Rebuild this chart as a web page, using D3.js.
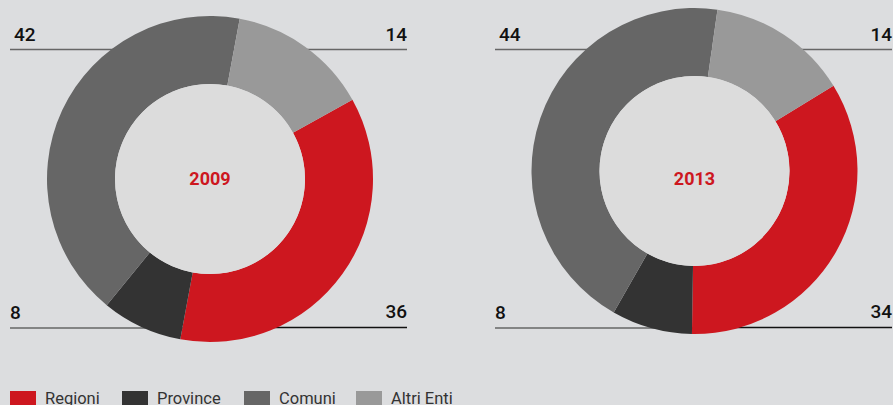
<!DOCTYPE html>
<html>
<head>
<meta charset="utf-8">
<script src="https://cdn.jsdelivr.net/npm/d3@7"></script>
<style>
  html, body { margin: 0; padding: 0; background: #dcdddf; }
  svg { display: block; font-family: Roboto, "Noto Sans", sans-serif; }
</style>
</head>
<body>
<svg id="chart" width="893" height="405"></svg>
<script>
// data
var categories = ["Regioni", "Province", "Comuni", "Altri Enti"];
var years = ["2009", "2013"];
var values2009 = [36, 8, 42, 14];
var values2013 = [34, 8, 44, 14];
var colors = ["#cd171f", "#333333", "#666666", "#999999"];

var svg = d3.select("#chart");

var charts = [
    { year: years[0], values: values2009, cx: 210, cy: 179, start: 60.9, x0: 10, x1: 407 },
    { year: years[1], values: values2013, cx: 694.5, cy: 171, start: 58.5, x0: 495, x1: 892 }
];

var outerR = 163, innerR = 95;
var arc = d3.arc().innerRadius(innerR).outerRadius(outerR);

charts.forEach(function(c) {
    var g = svg.append("g");

    // leader lines sit behind the donut
    g.append("line")
        .attr("x1", c.x0).attr("x2", c.x1)
        .attr("y1", 49.5).attr("y2", 49.5)
        .attr("stroke", "#666").attr("stroke-width", 1.6);
    g.append("line")
        .attr("x1", c.x0).attr("x2", (c.x0 + c.x1) / 2)
        .attr("y1", 328).attr("y2", 328)
        .attr("stroke", "#666").attr("stroke-width", 1.6);
    g.append("line")
        .attr("x1", (c.x0 + c.x1) / 2).attr("x2", c.x1)
        .attr("y1", 327.5).attr("y2", 327.5)
        .attr("stroke", "#111").attr("stroke-width", 1.4);

    var a0 = c.start * Math.PI / 180;
    var pie = d3.pie().sort(null).value(function(d) { return d; })
        .startAngle(a0).endAngle(a0 + 2 * Math.PI);

    var donut = g.append("g").attr("transform", "translate(" + c.cx + "," + c.cy + ")");
    donut.selectAll("path")
        .data(pie(c.values))
        .enter().append("path")
        .attr("d", arc)
        .attr("fill", function(d, i) { return colors[i]; });

    donut.append("circle").attr("r", innerR).attr("fill", "#dcdcdc");

    // year label: same height in both charts
    g.append("text")
        .attr("x", c.cx)
        .attr("y", 185)
        .attr("text-anchor", "middle")
        .attr("fill", "#cd171f")
        .attr("font-weight", "bold")
        .attr("font-size", 18)
        .text(c.year);

    // value labels: Comuni top-left, Altri top-right, Province bottom-left, Regioni bottom-right
    var labels = [
        { v: c.values[2], x: c.x0 + 4, y: 41, anchor: "start" },
        { v: c.values[3], x: c.x1, y: 41, anchor: "end" },
        { v: c.values[1], x: c.x0, y: 319, anchor: "start" },
        { v: c.values[0], x: c.x1, y: 318, anchor: "end" }
    ];
    g.selectAll("text.val")
        .data(labels)
        .enter().append("text")
        .attr("class", "val")
        .attr("x", function(d) { return d.x; })
        .attr("y", function(d) { return d.y; })
        .attr("text-anchor", function(d) { return d.anchor; })
        .attr("font-size", 19)
        .attr("font-weight", 500)
        .attr("fill", "#111")
        .text(function(d) { return d.v; });
});

// legend (bottom row, runs off the lower edge as in the original)
var legendX = [10, 122, 244, 356];
var legend = svg.append("g");
var items = legend.selectAll("g")
    .data(categories)
    .enter().append("g")
    .attr("transform", function(d, i) { return "translate(" + legendX[i] + ",391)"; });
items.append("rect")
    .attr("width", 26).attr("height", 16)
    .attr("fill", function(d, i) { return colors[i]; });
items.append("text")
    .attr("x", 35).attr("y", 12.5)
    .attr("font-size", 16.5)
    .attr("fill", "#333")
    .text(function(d) { return d; });
</script>
</body>
</html>
